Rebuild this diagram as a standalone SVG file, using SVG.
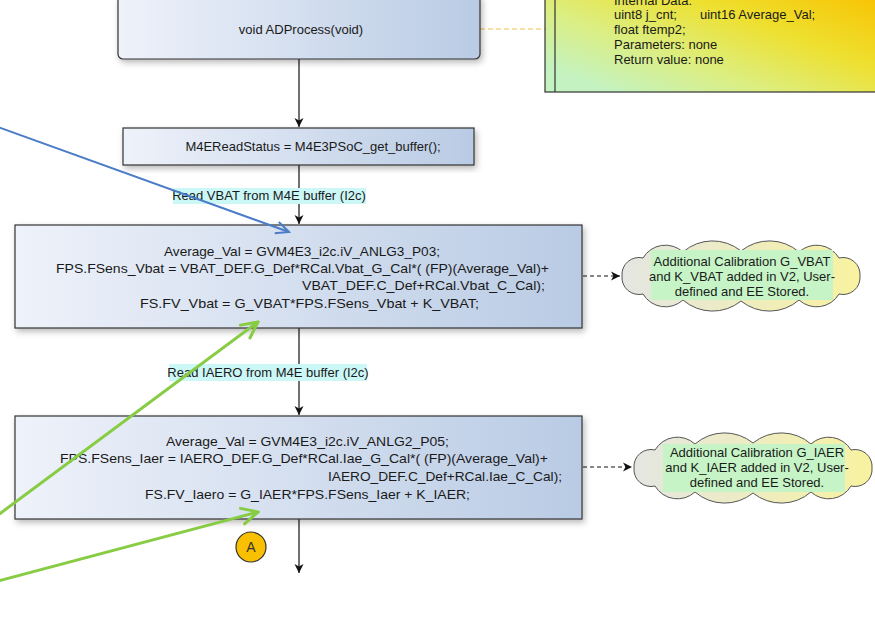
<svg xmlns="http://www.w3.org/2000/svg" width="875" height="638" viewBox="0 0 875 638">
<style>
text{font-family:"Liberation Sans",Arial,sans-serif;font-size:13px;fill:#1a1a1a}
.box{fill:url(#boxGrad);stroke:#333;stroke-width:1.2;filter:url(#shadow)}
.conn{stroke:#111;stroke-width:1.2;fill:none}
.dash{stroke:#111;stroke-width:1;stroke-dasharray:4,3;fill:none}
.lblbg{fill:#ccf7f7}
.hl{fill:#c6f4c6}
.cloud{fill:url(#cloudGrad);stroke:#555;stroke-width:1}
.c{text-anchor:middle}
</style>
<defs>
<linearGradient id="boxGrad" x1="0" y1="0" x2="1" y2="0">
<stop offset="0" stop-color="#eef2fa"/>
<stop offset="1" stop-color="#b9cbe4"/>
</linearGradient>
<linearGradient id="noteGrad" x1="0" y1="0.75" x2="0.95" y2="0">
<stop offset="0" stop-color="#c4f2c0"/>
<stop offset="0.3" stop-color="#dcee80"/>
<stop offset="0.62" stop-color="#eee030"/>
<stop offset="1" stop-color="#f8c200"/>
</linearGradient>
<linearGradient id="cloudGrad" x1="0" y1="0" x2="1" y2="0">
<stop offset="0" stop-color="#e4e6e2"/>
<stop offset="1" stop-color="#f8f2a0"/>
</linearGradient>
<filter id="shadow" x="-5%" y="-10%" width="115%" height="130%">
<feDropShadow dx="2" dy="3" stdDeviation="3" flood-color="#000" flood-opacity="0.28"/>
</filter>
<marker id="arr" viewBox="-10 -6 12 12" markerWidth="12" markerHeight="12" markerUnits="userSpaceOnUse" refX="0" refY="0" orient="auto">
<path d="M-9,-4.5 L0,0 L-9,4.5 L-6.5,0 Z" fill="#111"/>
</marker>
<marker id="arrBlue" viewBox="-16 -9 18 18" markerWidth="18" markerHeight="18" markerUnits="userSpaceOnUse" refX="0" refY="0" orient="auto">
<path d="M-13,-6 L0,0 L-13,6" fill="none" stroke="#4a7cc8" stroke-width="2"/>
</marker>
<marker id="arrGreen" viewBox="-20 -11 22 22" markerWidth="22" markerHeight="22" markerUnits="userSpaceOnUse" refX="0" refY="0" orient="auto">
<path d="M-16,-8 L0,0 L-16,8" fill="none" stroke="#88cc44" stroke-width="3" stroke-linecap="round"/>
</marker>
<path id="cloudShape" d="M1,35 A17,17 0 0 1 22,17 A26,26 0 0 1 62,11 A45,45 0 0 1 120,10 A45,45 0 0 1 178,11 A26,26 0 0 1 218,17 A17,17 0 0 1 239,35 A17,17 0 0 1 218,53 A26,26 0 0 1 178,59 A45,45 0 0 1 120,60 A45,45 0 0 1 62,59 A26,26 0 0 1 22,53 A17,17 0 0 1 1,35 Z"/>
</defs>
<rect width="875" height="638" fill="#fff"/>

<g id="connectors">
<line class="dash" x1="480" y1="29" x2="545" y2="29" style="stroke:#f0c040;stroke-dasharray:5,3"/>
<line class="conn" x1="299" y1="59" x2="299" y2="127" marker-end="url(#arr)"/>
<line class="conn" x1="299" y1="165" x2="299" y2="224" marker-end="url(#arr)"/>
<line class="conn" x1="299" y1="328" x2="299" y2="415" marker-end="url(#arr)"/>
<line class="conn" x1="299" y1="519" x2="299" y2="573" marker-end="url(#arr)"/>
<line class="dash" x1="583" y1="276" x2="620" y2="276" marker-end="url(#arr)"/>
<line class="dash" x1="583" y1="467" x2="632" y2="467" marker-end="url(#arr)"/>
<g id="lbl1">
<rect class="lblbg" x="173" y="188" width="193" height="16"/>
<text class="c" x="269" y="200">Read VBAT from M4E buffer (I2c)</text>
</g>
<g id="lbl2">
<rect class="lblbg" x="169" y="364" width="198" height="17"/>
<text class="c" x="268" y="377">Read IAERO from M4E buffer (I2c)</text>
</g>
</g>

<g id="note">
<rect x="545" y="-10" width="340" height="102" fill="url(#noteGrad)" stroke="#333" stroke-width="1.2"/>
<line x1="555" y1="-10" x2="555" y2="92" stroke="#333" stroke-width="1.2"/>
<text x="614" y="5">Internal Data:</text>
<text x="614" y="19">uint8 j_cnt;<tspan x="700">uint16 Average_Val;</tspan></text>
<text x="614" y="34">float ftemp2;</text>
<text x="614" y="49">Parameters: none</text>
<text x="614" y="64">Return value: none</text>
</g>

<g id="n_adprocess">
<rect class="box" x="118" y="-6" width="362" height="65" rx="5"/>
<text class="c" x="301" y="34">void ADProcess(void)</text>
</g>

<g id="n_readstatus">
<rect class="box" x="123" y="128" width="351" height="37"/>
<text class="c" x="313" y="151">M4EReadStatus = M4E3PSoC_get_buffer();</text>
</g>

<g id="n_vbat">
<rect class="box" x="15" y="225" width="567" height="103"/>
<text x="164" y="256" textLength="276" lengthAdjust="spacingAndGlyphs">Average_Val = GVM4E3_i2c.iV_ANLG3_P03;</text>
<text x="56" y="273" textLength="493" lengthAdjust="spacingAndGlyphs">FPS.FSens_Vbat = VBAT_DEF.G_Def*RCal.Vbat_G_Cal*( (FP)(Average_Val)+</text>
<text x="302" y="290" textLength="243" lengthAdjust="spacingAndGlyphs">VBAT_DEF.C_Def+RCal.Vbat_C_Cal);</text>
<text x="140" y="308" textLength="339" lengthAdjust="spacingAndGlyphs">FS.FV_Vbat = G_VBAT*FPS.FSens_Vbat + K_VBAT;</text>
</g>

<g id="n_iaer">
<rect class="box" x="15" y="416" width="567" height="103"/>
<text x="166" y="446" textLength="283" lengthAdjust="spacingAndGlyphs">Average_Val = GVM4E3_i2c.iV_ANLG2_P05;</text>
<text x="60" y="463" textLength="488" lengthAdjust="spacingAndGlyphs">FPS.FSens_Iaer = IAERO_DEF.G_Def*RCal.Iae_G_Cal*( (FP)(Average_Val)+</text>
<text x="328" y="481" textLength="234" lengthAdjust="spacingAndGlyphs">IAERO_DEF.C_Def+RCal.Iae_C_Cal);</text>
<text x="145" y="499" textLength="325" lengthAdjust="spacingAndGlyphs">FS.FV_Iaero = G_IAER*FPS.FSens_Iaer + K_IAER;</text>
</g>

<g id="cloud_vbat">
<use href="#cloudShape" class="cloud" transform="translate(621,241)"/>
<rect class="hl" x="651" y="250" width="182" height="50"/>
<text class="c" x="742" y="266">Additional Calibration G_VBAT</text>
<text class="c" x="742" y="281">and K_VBAT added in V2, User-</text>
<text class="c" x="742" y="296">defined and EE Stored.</text>
</g>

<g id="cloud_iaer">
<use href="#cloudShape" class="cloud" transform="translate(633,433)"/>
<rect class="hl" x="663" y="444" width="182" height="48"/>
<text class="c" x="757" y="457">Additional Calibration G_IAER</text>
<text class="c" x="757" y="472">and K_IAER added in V2, User-</text>
<text class="c" x="757" y="487">defined and EE Stored.</text>
</g>

<g id="conn_A">
<circle cx="251" cy="547" r="15" fill="#f8c000" stroke="#333" stroke-width="1.2"/>
<text class="c" x="251" y="552" style="font-size:14px;fill:#333">A</text>
</g>

<g id="annotations">
<line x1="-2" y1="127" x2="289" y2="232" stroke="#4a7cc8" stroke-width="2" marker-end="url(#arrBlue)"/>
<line x1="-2" y1="515" x2="258" y2="322" stroke="#88cc44" stroke-width="3" marker-end="url(#arrGreen)"/>
<line x1="-2" y1="581" x2="258" y2="512" stroke="#88cc44" stroke-width="3" marker-end="url(#arrGreen)"/>
</g>
</svg>
